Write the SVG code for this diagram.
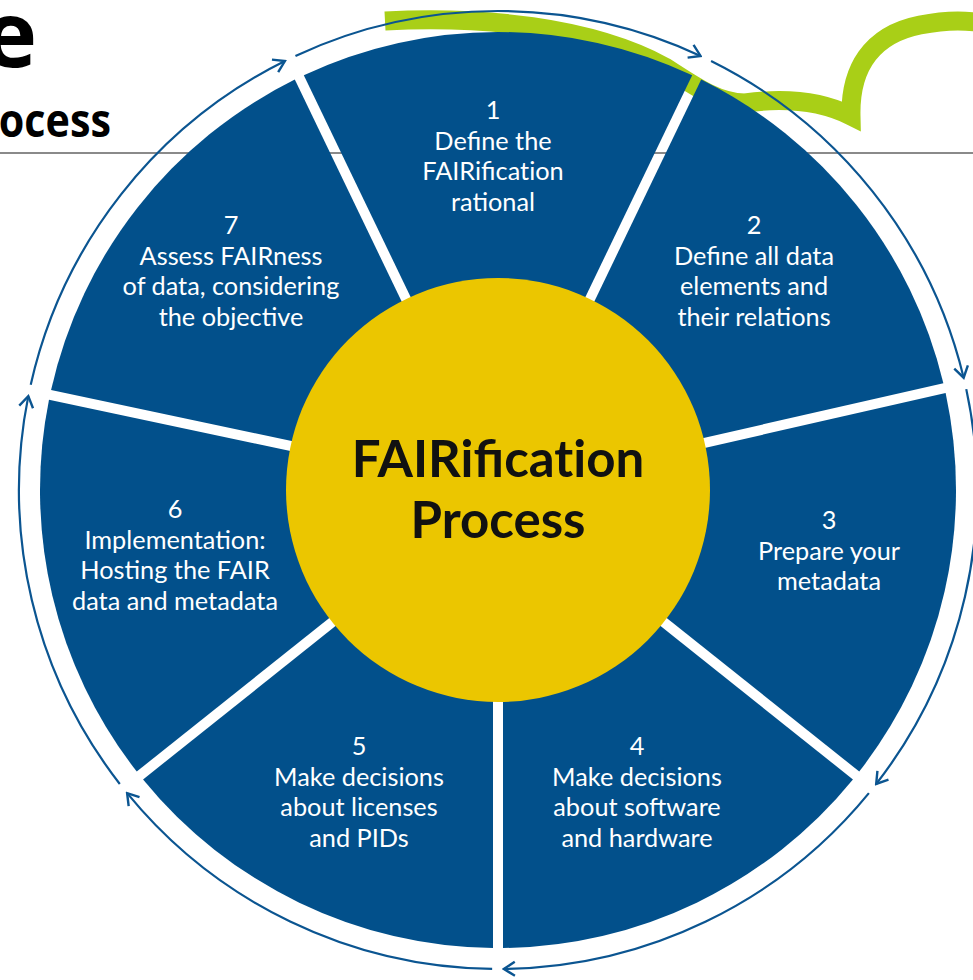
<svg xmlns="http://www.w3.org/2000/svg" width="973" height="980" viewBox="0 0 973 980">
<style>
.seg{fill:#02508b}
.lbl{font-family:Lato,"Open Sans","Liberation Sans",sans-serif;font-size:25.3px;fill:#ffffff;text-anchor:middle}
.arc{fill:none;stroke:#0b5591;stroke-width:2.2;marker-end:url(#arr)}
.title{font-family:Lato,"Open Sans","Liberation Sans",sans-serif;font-weight:700;font-size:51px;fill:#111111;text-anchor:middle}
.head{font-family:"Open Sans","Liberation Sans",sans-serif;font-weight:700;fill:#000000}
</style>
<defs>
<marker id="arr" markerUnits="userSpaceOnUse" viewBox="-14 -9 16 18" refX="0" refY="0" markerWidth="16" markerHeight="18" orient="auto">
<path d="M-11,-7 L0,0 L-11,7" fill="none" stroke="#0b5591" stroke-width="2.4"/>
</marker>
</defs>
<rect width="973" height="980" fill="#ffffff"/>
<g id="header">
<text class="head" x="37" y="67" font-size="92" text-anchor="end">e</text>
<text class="head" x="-20" y="137" font-size="46" textLength="131" lengthAdjust="spacingAndGlyphs">rocess</text>
<line x1="0" y1="153" x2="973" y2="153" stroke="#8a8a8a" stroke-width="2"/>
</g>
<path id="swoosh" d="M385 21 C480 16 590 26 665 67 C700 90 720 103 745 103 C775 99 815 98 851 116 C850 70 870 35 920 25 C945 20 960 20 975 22" fill="none" stroke="#a9cf17" stroke-width="19" stroke-linejoin="miter" stroke-miterlimit="10"/>
<g id="connectors">
<path class="arc" d="M295.46 55.93 A479 479 0 0 1 700.54 55.93"/>
<path class="arc" d="M711.08 61.00 A479 479 0 0 1 963.65 377.72"/>
<path class="arc" d="M966.26 389.12 A479 479 0 0 1 876.20 783.95"/>
<path class="arc" d="M868.88 793.14 A479 479 0 0 1 503.85 968.96"/>
<path class="arc" d="M492.15 968.96 A479 479 0 0 1 127.12 793.14"/>
<path class="arc" d="M119.80 783.95 A479 479 0 0 1 28.29 396.14"/>
<path class="arc" d="M30.72 384.69 A479 479 0 0 1 284.92 61.00"/>
</g>
<g id="step1">
<path class="seg" d="M498 478.48 L303.81 75.20 A458 458 0 0 1 692.19 75.20 Z"/>
<text class="lbl" x="493" y="119">1</text>
<text class="lbl" x="493" y="150">Define the</text>
<text class="lbl" x="493" y="180">FAIRificat&#8204;ion</text>
<text class="lbl" x="493" y="211">rational</text>
</g>
<g id="step2">
<path class="seg" d="M507.01 482.82 L701.21 79.55 A458 458 0 0 1 943.37 383.22 Z"/>
<text class="lbl" x="754" y="234">2</text>
<text class="lbl" x="754" y="265">Define all data</text>
<text class="lbl" x="754" y="295">elements and</text>
<text class="lbl" x="754" y="326">their relations</text>
</g>
<g id="step3">
<path class="seg" d="M509.23 492.56 L945.60 392.96 A458 458 0 0 1 859.25 771.53 Z"/>
<text class="lbl" x="829" y="529">3</text>
<text class="lbl" x="829" y="560">Prepare your</text>
<text class="lbl" x="829" y="590">metadata</text>
</g>
<g id="step4">
<path class="seg" d="M503 500.38 L852.94 779.47 A458 458 0 0 1 503 947.97 Z"/>
<text class="lbl" x="637" y="755">4</text>
<text class="lbl" x="637" y="786">Make decisions</text>
<text class="lbl" x="637" y="816">about software</text>
<text class="lbl" x="637" y="847">and hardware</text>
</g>
<g id="step5">
<path class="seg" d="M493 500.38 L493 947.97 A458 458 0 0 1 143.06 779.47 Z"/>
<text class="lbl" x="359" y="755">5</text>
<text class="lbl" x="359" y="786">Make decisions</text>
<text class="lbl" x="359" y="816">about licenses</text>
<text class="lbl" x="359" y="847">and PIDs</text>
</g>
<g id="step6">
<path class="seg" d="M486.61 492.69 L136.75 771.53 A458 458 0 0 1 49.0 399.67 Z"/>
<text class="lbl" x="175" y="518">6</text>
<text class="lbl" x="175" y="549">Implementation:</text>
<text class="lbl" x="175" y="579">Hosting the FAIR</text>
<text class="lbl" x="175" y="610">data and metadata</text>
</g>
<g id="step7">
<path class="seg" d="M489.07 483.00 L51.07 389.89 A458 458 0 0 1 294.79 79.55 Z"/>
<text class="lbl" x="231" y="234">7</text>
<text class="lbl" x="231" y="265">Assess FAIRness</text>
<text class="lbl" x="231" y="295">of data, considering</text>
<text class="lbl" x="231" y="326">the objective</text>
</g>
<g id="center">
<circle cx="498" cy="490" r="212" fill="#ebc600"/>
<text class="title" x="498" y="477">FAIRificat&#8204;ion</text>
<text class="title" x="498" y="538">Process</text>
</g>
</svg>
